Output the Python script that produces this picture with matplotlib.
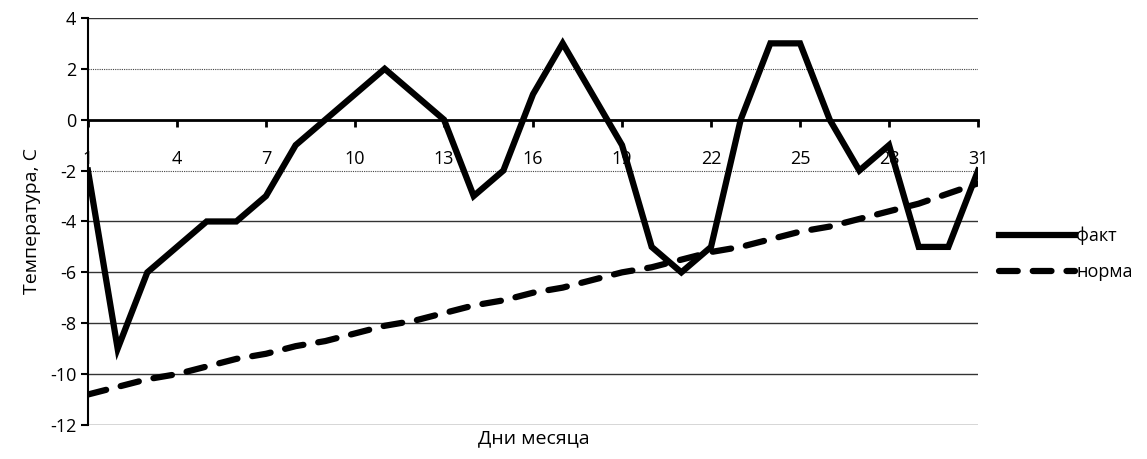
import matplotlib.pyplot as plt

# Данные
days = list(range(1, 32))
fakt = [-2, -9, -6, -5, -4, -4, -3, -1, 0, 1, 2, 1, 0, -3, -2, 1, 3, 1, -1, -5,
        -6, -5, 0, 3, 3, 0, -2, -1, -5, -5, -2]
norma = [-10.8, -10.5, -10.2, -10.0, -9.7, -9.4, -9.2, -8.9, -8.7, -8.4, -8.1,
         -7.9, -7.6, -7.3, -7.1, -6.8, -6.6, -6.3, -6.0, -5.8, -5.5, -5.2, -5.0,
         -4.7, -4.4, -4.2, -3.9, -3.6, -3.3, -2.9, -2.5]
xticks = list(range(1, 32, 3))
yticks = list(range(-12, 5, 2))

plt.rcParams['font.family'] = ['Open Sans', 'DejaVu Sans']
plt.rcParams['axes.unicode_minus'] = False

fig = plt.figure(figsize=(11.47, 4.59), dpi=100)
ax = fig.add_axes([0.0767, 0.074, 0.776, 0.887])

# Сетка: сплошные и пунктирные линии
for y in yticks:
    if y == 0:
        continue
    if y in (2, -2):
        ax.axhline(y, color='#444444', lw=0.8, ls=(0, (1, 1)), zorder=1)
    else:
        ax.axhline(y, color='#333333', lw=1.0, zorder=1)

ax.plot(days, fakt, color='black', lw=4.5, solid_joinstyle='miter', label='факт', zorder=3)
ax.plot(days, norma, color='black', lw=4.5, ls=(0, (3.0, 2.4)), dash_capstyle='round',
        label='норма', zorder=3)

ax.set_xlim(1, 31)
ax.set_ylim(-12, 4)

# Ось X пересекает в нуле
ax.spines['bottom'].set_position(('data', 0))
ax.spines['bottom'].set_linewidth(2)
ax.spines['left'].set_linewidth(1.5)
ax.spines['top'].set_visible(False)
ax.spines['right'].set_visible(False)

ax.set_xticks(xticks)
ax.set_xticklabels([str(d) for d in xticks])
ax.tick_params(axis='x', direction='out', length=5, width=2, pad=17, labelsize=13)
ax.set_yticks(yticks)
ax.tick_params(axis='y', direction='out', length=5, width=1.5, labelsize=13)

ax.set_ylabel('Температура, С', fontsize=14, labelpad=6)
fig.text(0.465, 0.045, 'Дни месяца', ha='center', va='center', fontsize=14)

leg = ax.legend(loc='center left', bbox_to_anchor=(1.005, 0.42), frameon=False,
                fontsize=13, handlelength=4.2, handletextpad=0.1, labelspacing=1.0)

fig.savefig('out.png', dpi=100)
